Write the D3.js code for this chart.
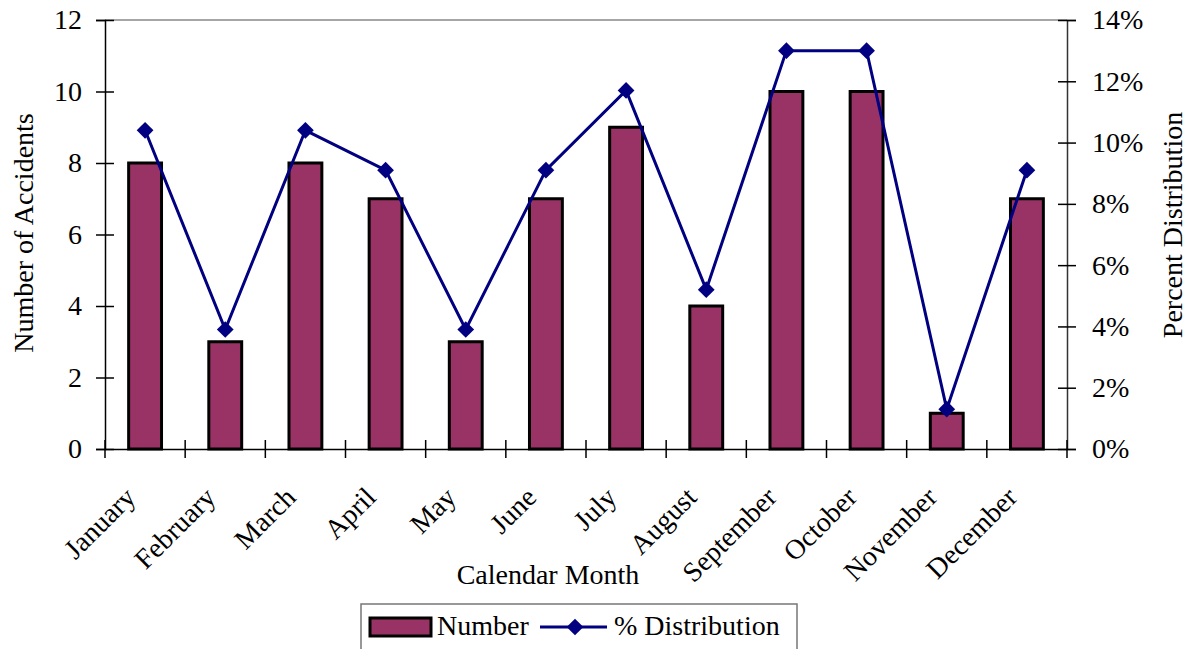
<!DOCTYPE html>
<html>
<head>
<meta charset="UTF-8" />
<title>Accidents by Calendar Month</title>
<script src="https://d3js.org/d3.v7.min.js"></script>
<style>
  body { margin: 0; background: #fff; }
  svg { display: block; }
  svg text { font-family: "Liberation Serif", "Times New Roman", Tinos, serif; }
</style>
</head>
<body>
<svg width="1190" height="649"></svg>
<script>
  const months = ["January","February","March","April","May","June","July","August","September","October","November","December"];
  const accidents = [8, 3, 8, 7, 3, 7, 9, 4, 10, 10, 1, 7];
  const pctDistribution = [10.4, 3.9, 10.4, 9.1, 3.9, 9.1, 11.7, 5.2, 13.0, 13.0, 1.3, 9.1];
  const leftTicks = [0, 2, 4, 6, 8, 10, 12];
  const rightTicks = [0, 2, 4, 6, 8, 10, 12, 14];

  const FONT = '"Liberation Serif", "Times New Roman", Tinos, serif';
  const svg = d3.select("svg");
  const m = { left: 105, right: 1067, top: 20, bottom: 449 };

  const x = d3.scaleBand().domain(months).range([m.left, m.right]).paddingInner(0.59).paddingOuter(0.295);
  const xc = d3.scaleBand().domain(months).range([m.left, m.right]);
  const y = d3.scaleLinear().domain([0, 12]).range([m.bottom, m.top]);
  const y2 = d3.scaleLinear().domain([0, 14]).range([m.bottom, m.top]);
  const mid = d => xc(d) + xc.bandwidth() / 2;

  // top border
  svg.append("line").attr("x1", m.left).attr("x2", m.right).attr("y1", m.top).attr("y2", m.top)
    .attr("stroke", "#888").attr("stroke-width", 1.5);

  // bars
  svg.append("g").selectAll("rect").data(accidents).join("rect")
    .attr("x", (d, i) => x(months[i]))
    .attr("y", d => y(d))
    .attr("width", x.bandwidth())
    .attr("height", d => y(0) - y(d))
    .attr("fill", "#993366").attr("stroke", "#000").attr("stroke-width", 3);

  // left axis
  const gl = svg.append("g").attr("transform", `translate(${m.left},0)`)
    .call(d3.axisLeft(y).tickValues(leftTicks).tickSize(9).tickPadding(14));
  gl.attr("font-family", null);
  gl.selectAll(".tick line").attr("x2", 9).attr("x1", -9).attr("stroke", "#000").attr("stroke-width", 1.5);
  gl.select(".domain").attr("stroke", "#000").attr("stroke-width", 1.5);
  gl.selectAll("text").attr("font-size", 28);

  // right axis
  const gr = svg.append("g").attr("transform", `translate(${m.right},0)`)
    .call(d3.axisRight(y2).tickValues(rightTicks).tickFormat(d => d + "%").tickSize(9).tickPadding(16));
  gr.attr("font-family", null);
  gr.selectAll(".tick line").attr("x1", -9).attr("x2", 9).attr("stroke", "#000").attr("stroke-width", 1.5);
  gr.select(".domain").attr("stroke", "#333").attr("stroke-width", 1.5);
  gr.selectAll("text").attr("font-size", 28);

  // bottom axis with category separators
  const gb = svg.append("g").attr("transform", `translate(0,${m.bottom})`)
    .call(d3.axisBottom(xc).tickSize(0).tickFormat(""));
  gb.select(".domain").attr("stroke", "#000").attr("stroke-width", 1.5);
  gb.selectAll(".tick").remove();
  const boundaries = months.map(d => xc(d)).concat([m.right]);
  gb.selectAll("line.cat").data(boundaries).join("line").attr("class", "cat")
    .attr("x1", d => d).attr("x2", d => d).attr("y1", -9).attr("y2", 9)
    .attr("stroke", "#000").attr("stroke-width", 1.5);

  // month labels
  svg.append("g").selectAll("text").data(months).join("text")
    .attr("transform", d => `translate(${mid(d) - 8},${m.bottom + 50}) rotate(-45)`)
    .attr("text-anchor", "end")
    .attr("font-size", 28)
    .text(d => d);

  // line series
  const line = d3.line().x((d, i) => mid(months[i])).y(d => y2(d));
  svg.append("path").datum(pctDistribution).attr("d", line)
    .attr("fill", "none").attr("stroke", "#000080").attr("stroke-width", 3);
  const diamond = d3.symbol().type(d3.symbolSquare).size(140);
  svg.append("g").selectAll("path").data(pctDistribution).join("path")
    .attr("d", diamond)
    .attr("transform", (d, i) => `translate(${mid(months[i])},${y2(d)}) rotate(45)`)
    .attr("fill", "#000080");

  // axis titles
  svg.append("text").attr("transform", `translate(33,233) rotate(-90)`)
    .attr("text-anchor", "middle").attr("font-size", 28).text("Number of Accidents");
  svg.append("text").attr("transform", `translate(1182,225) rotate(-90)`)
    .attr("text-anchor", "middle").attr("font-size", 28).text("Percent Distribution");
  svg.append("text").attr("x", 548).attr("y", 584)
    .attr("text-anchor", "middle").attr("font-size", 28).text("Calendar Month");

  // legend
  const lg = svg.append("g");
  lg.append("rect").attr("x", 361).attr("y", 604).attr("width", 436).attr("height", 50)
    .attr("fill", "#fff").attr("stroke", "#777").attr("stroke-width", 1.5);
  lg.append("rect").attr("x", 370).attr("y", 618).attr("width", 61).attr("height", 18)
    .attr("fill", "#993366").attr("stroke", "#000").attr("stroke-width", 3);
  lg.append("text").attr("x", 437).attr("y", 635).attr("font-size", 28).text("Number");
  lg.append("line").attr("x1", 540).attr("x2", 607).attr("y1", 627).attr("y2", 627)
    .attr("stroke", "#000080").attr("stroke-width", 3);
  lg.append("path").attr("d", diamond).attr("transform", "translate(575,627) rotate(45)").attr("fill", "#000080");
  lg.append("text").attr("x", 614).attr("y", 635).attr("font-size", 28).text("% Distribution");

  svg.selectAll("text").style("font-family", FONT).attr("fill", "#000");
</script>
</body>
</html>
